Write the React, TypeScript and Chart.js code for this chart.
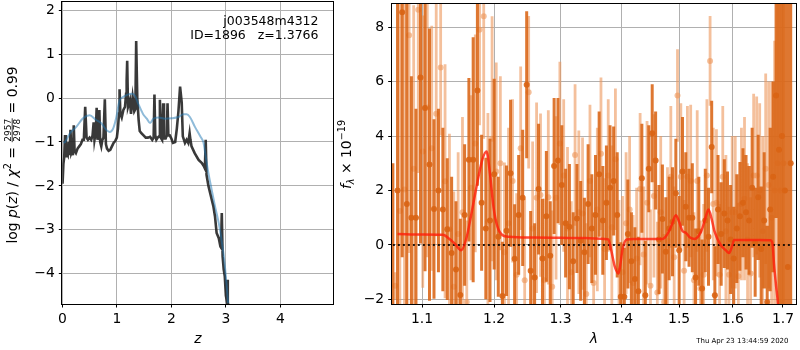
import React, { useEffect, useRef } from "react";
import { Chart, registerables } from "chart.js";
Chart.register(...registerables);

const FAM = '"DejaVu Sans", "Liberation Sans", sans-serif';

// ---------- Left panel: log p(z) ----------
const zPz = [0.005,0.02,0.035,0.05,0.065,0.08,0.10,0.115,0.13,0.15,0.165,0.18,0.195,0.21,0.225,0.25,0.28,0.31,0.34,0.37,0.395,0.42,0.445,0.47,0.50,0.53,0.555,0.575,0.59,0.615,0.63,0.645,0.665,0.68,0.695,0.715,0.735,0.755,0.78,0.80,0.82,0.85,0.88,0.91,0.94,0.97,1.0,1.02,1.04,1.05,1.065,1.09,1.12,1.15,1.17,1.18,1.19,1.205,1.24,1.26,1.29,1.32,1.34,1.355,1.375,1.40,1.42,1.45,1.49,1.53,1.57,1.61,1.65,1.675,1.69,1.705,1.725,1.75,1.775,1.79,1.805,1.83,1.85,1.865,1.895,1.915,1.93,1.945,1.97,2.0,2.03,2.07,2.10,2.13,2.16,2.19,2.21,2.25,2.28,2.31,2.335,2.35,2.37,2.43,2.50,2.56,2.60,2.615,2.63,2.645,2.68,2.74,2.77,2.80,2.83,2.87,2.90,2.91,2.925,2.94,2.96,2.98,3.0,3.015,3.025,3.035,3.05];
const logPz = [-1.95,-1.5,-1.35,-0.84,-1.35,-1.25,-1.3,-1.0,-1.3,-0.72,-1.25,-1.2,-1.3,-0.62,-1.2,-1.25,-1.15,-1.1,-1.05,-0.95,-0.95,-0.2,-0.9,-0.95,-0.9,-0.95,-0.85,-0.55,-0.95,-0.75,-0.22,-0.95,-0.8,-0.27,-1.0,-1.1,-0.95,-0.9,-0.03,-1.05,-1.15,-1.2,-1.18,-1.1,-1.02,-0.98,-0.9,-0.7,-0.35,0.2,-0.35,-0.44,-0.27,-0.2,0.1,0.4,0.85,-0.2,-0.05,-0.36,0.02,-0.3,-0.25,1.3,0.0,-0.5,-0.75,-0.8,-0.85,-0.9,-0.9,-0.88,-0.95,-0.9,0.08,-0.85,-0.95,-0.9,-0.87,-0.04,-0.9,-0.95,-0.12,-0.92,-0.92,-0.85,-0.12,-0.85,-0.85,-0.92,-1.02,-1.0,-0.7,-0.3,0.26,-0.1,-0.87,-1.02,-0.95,-1.02,-0.8,-0.95,-1.1,-1.26,-1.41,-1.48,-1.56,-1.6,-0.95,-1.75,-2.0,-2.31,-2.46,-2.69,-3.07,-3.19,-3.38,-3.4,-2.62,-3.6,-3.9,-4.06,-4.5,-4.6,-4.14,-4.65,-4.75];
const zChi = [0.02,0.05,0.14,0.26,0.38,0.5,0.62,0.72,0.81,0.87,0.93,0.99,1.05,1.11,1.2,1.27,1.33,1.39,1.48,1.55,1.61,1.67,1.76,1.88,2.0,2.13,2.22,2.28,2.34,2.43,2.53,2.59,2.63,2.68,2.74,2.8,2.87,2.92,2.97,3.01,3.04];
const logChi = [-1.02,-1.0,-0.8,-0.65,-0.46,-0.39,-0.5,-0.58,-0.73,-0.77,-0.7,-0.44,-0.05,0.02,0.08,0.1,0.06,-0.12,-0.36,-0.47,-0.57,-0.47,-0.44,-0.47,-0.46,-0.43,-0.37,-0.37,-0.43,-0.65,-0.87,-1.02,-1.33,-1.71,-2.09,-2.46,-2.85,-3.23,-3.68,-4.21,-4.67];
const zTicks = [0, 1, 2, 3, 4];
const pzTicks = [-4, -3, -2, -1, 0, 1, 2];

// ---------- Right panel: spectrum ----------
const lamDark = [
  1.062,1.068,1.074,1.080,1.086,1.092,1.098,1.104,1.110,1.116,
  1.122,1.128,1.134,1.140,1.146,1.152,1.158,1.164,1.170,1.176,
  1.182,1.188,1.194,1.200,1.206,1.212,1.218,1.224,1.230,1.236,
  1.242,1.248,1.254,1.260,1.266,1.272,1.278,1.284,1.290,1.296,
  1.302,1.308,1.314,1.320,1.326,1.332,1.338,1.344,1.350,1.356,
  1.362,1.368,1.374,1.380,1.386,1.392,1.398,1.404,1.410,1.416,
  1.422,1.428,1.434,1.440,1.446,1.452,1.458,1.464,1.470,1.476,
  1.482,1.488,1.494,1.500,1.506,1.512,1.518,1.524,1.530,1.536,
  1.542,1.548,1.554,1.560,1.566,1.572,1.578,1.584,1.590,1.596,
  1.602,1.608,1.614,1.620,1.626,1.632,1.638,1.644,1.650,1.656,
  1.662,1.668,1.674,1.680,1.686,1.692,1.698,1.704,1.710,1.716];
const fluxDark = [
  -2.5,2.0,8.55,1.5,1.0,1.0,6.15,5.03,2.95,1.32,
  2.0,1.3,0.58,-0.3,-0.9,-1.84,1.1,3.13,3.13,5.67,
  1.55,0.6,0.9,2.6,0.3,-1.88,0.52,2.63,-0.51,1.1,
  1.73,5.88,-0.95,-1.2,2.05,-0.5,1.05,-0.4,2.9,3.1,
  2.2,0.8,0.67,-0.6,0.97,0.15,-0.27,1.5,0.6,1.1,
  2.6,0.9,1.55,2.1,2.35,1.1,-1.9,-1.9,0.4,-0.6,
  -1.25,-1.7,2.45,-1.85,2.8,4.1,3.1,0.2,0.95,-0.25,
  0.6,0.85,1.9,-0.2,2.7,1.4,1.0,1.0,-1.2,0.5,
  -1.6,0.9,0.3,3.6,-1.85,1.3,0.4,1.15,0.9,0.2,
  -0.5,0.6,1.05,1.55,1.2,0.9,2.1,0.1,1.75,-0.15,
  0.9,-2.1,1.3,2.5,5.49,3.5,4.0,2.0,-0.81,3.0];
const errDark = [
  5.5,9.0,9.0,8.0,5.2,4.0,6.1,6.0,5.0,3.3,
  3.0,3.0,2.6,2.8,2.5,2.8,2.6,3.0,4.5,3.5,
  2.5,2.6,3.0,3.5,2.2,2.0,2.4,2.7,2.0,2.2,
  2.5,2.7,2.2,2.0,2.4,2.2,2.4,2.0,2.5,2.3,
  2.2,2.0,2.3,1.8,2.0,2.2,2.0,2.2,2.0,2.2,
  2.3,2.0,2.1,2.3,2.0,2.3,2.0,1.8,2.0,1.8,
  1.9,2.0,2.0,2.0,1.6,1.8,1.8,2.0,2.0,2.0,
  1.9,2.0,2.0,2.0,2.0,2.0,1.8,2.0,1.8,2.0,
  1.8,1.9,1.8,1.7,1.8,2.0,1.9,2.0,1.8,2.0,
  1.9,2.0,2.0,2.0,2.1,2.0,2.2,2.0,2.3,2.3,
  2.5,2.8,3.0,3.5,4.5,7.0,9.0,10.0,12.0,12.0];

const lamLight = [
  1.065,1.071,1.077,1.083,1.089,1.095,1.101,1.107,1.113,1.119,
  1.125,1.131,1.137,1.143,1.149,1.155,1.161,1.167,1.173,1.179,
  1.185,1.191,1.197,1.203,1.209,1.215,1.221,1.227,1.233,1.239,
  1.245,1.251,1.257,1.263,1.269,1.275,1.281,1.287,1.293,1.299,
  1.305,1.311,1.317,1.323,1.329,1.335,1.341,1.347,1.353,1.359,
  1.365,1.371,1.377,1.383,1.389,1.395,1.401,1.407,1.413,1.419,
  1.425,1.431,1.437,1.443,1.449,1.455,1.461,1.467,1.473,1.479,
  1.485,1.491,1.497,1.503,1.509,1.515,1.521,1.527,1.533,1.539,
  1.545,1.551,1.557,1.563,1.569,1.575,1.581,1.587,1.593,1.599,
  1.605,1.611,1.617,1.623,1.629,1.635,1.641,1.647,1.653,1.659,
  1.665,1.671,1.677,1.683,1.689,1.695,1.701];
const fluxLight = [
  -1.5,1.25,2.04,7.7,2.8,8.64,3.43,5.05,3.55,4.82,
  6.52,2.34,0.58,-1.54,0.4,1.2,-2.1,2.1,3.73,7.9,
  8.4,0.85,3.9,2.7,3.0,-0.27,0.8,2.35,-1.1,3.55,
  -1.3,5.61,0.6,1.73,1.83,-1.3,1.75,-1.54,1.73,3.73,
  2.55,0.6,-1.0,3.3,1.2,1.15,-1.8,2.35,-1.4,1.3,
  3.35,-0.15,2.55,0.65,3.15,-0.95,-1.0,0.8,1.3,-1.4,
  -0.5,2.05,-0.35,1.55,-1.5,1.8,-1.75,1.2,-2.1,0.15,
  2.5,-0.45,5.49,2.5,-0.95,2.5,2.35,-1.3,2.35,-1.6,
  -1.1,2.55,6.76,1.5,1.55,-1.1,2.5,0.5,-1.1,1.2,
  1.2,-1.15,1.5,1.7,0.2,-1.05,2.55,2.55,2.0,0.5,
  2.8,2.2,1.0,2.0,3.0,2.0,3.0];
const errLight = [
  0.5,9.0,8.0,8.0,6.0,6.0,5.0,5.5,4.5,4.5,
  2.5,4.3,3.5,3.5,3.0,3.5,3.0,3.4,4.0,3.5,
  4.5,4.0,4.5,4.0,3.2,3.3,3.5,3.0,3.0,3.0,
  3.0,2.8,3.2,3.5,3.0,3.0,3.2,2.8,3.0,3.0,
  2.8,3.0,2.6,2.6,3.0,2.8,2.6,2.8,2.6,3.0,
  2.8,2.6,2.8,3.0,2.6,2.6,2.8,2.6,2.7,2.5,
  2.6,2.8,2.5,3.0,2.8,3.0,2.6,2.8,2.5,2.7,
  2.6,2.6,1.7,2.7,2.6,2.6,2.8,2.5,2.6,2.5,
  2.6,2.8,1.65,2.8,2.7,2.6,2.6,2.8,2.5,2.8,
  2.8,2.7,2.8,3.0,2.8,2.8,3.0,2.9,3.2,3.5,
  3.5,3.8,5.0,5.5,7.0,9.0,9.0];

const lamModel = [1.068,1.100,1.128,1.137,1.145,1.153,1.160,1.167,1.174,1.183,1.189,1.194,1.199,1.205,1.212,1.222,1.260,1.300,1.340,1.371,1.377,1.382,1.388,1.394,1.397,1.401,1.408,1.420,1.445,1.470,1.477,1.486,1.494,1.500,1.506,1.512,1.520,1.528,1.540,1.547,1.554,1.560,1.565,1.577,1.587,1.593,1.598,1.603,1.620,1.650,1.675,1.679,1.682,1.686,1.690,1.694];
const fluxModel = [0.40,0.38,0.37,0.22,0.03,-0.20,0.20,1.07,2.04,3.13,3.43,2.60,1.40,0.65,0.36,0.30,0.27,0.26,0.25,0.22,0.20,-0.20,-0.80,-1.05,-0.75,-0.15,0.20,0.22,0.22,0.22,0.34,0.70,1.09,0.85,0.51,0.45,0.27,0.22,0.48,0.90,1.30,0.95,0.52,0.00,-0.20,-0.30,-0.10,0.18,0.18,0.18,0.17,0.00,-0.75,-1.50,-2.20,-3.50];
const zeroLam = [1.062, 1.72];
const zeroFlux = [0, 0];
const lamTicks = [1.1, 1.2, 1.3, 1.4, 1.5, 1.6, 1.7];
const fluxTicks = [-2, 0, 2, 4, 6, 8];

const fmt = (v: number) => (v < 0 ? "\u2212" + Math.abs(v) : String(v));

type Piece = { t?: string; frac?: [string, string]; f: string; dy?: number };

function drawVerticalRich(ctx: CanvasRenderingContext2D, baseX: number, centerY: number, pieces: Piece[]) {
  ctx.save();
  const widths = pieces.map((p) => {
    ctx.font = p.f;
    if (p.frac) return Math.max(ctx.measureText(p.frac[0]).width, ctx.measureText(p.frac[1]).width) + 2;
    return ctx.measureText(p.t || "").width;
  });
  const total = widths.reduce((a, b) => a + b, 0);
  ctx.translate(baseX, centerY);
  ctx.rotate(-Math.PI / 2);
  ctx.fillStyle = "#000";
  ctx.strokeStyle = "#000";
  ctx.textBaseline = "alphabetic";
  let x = -total / 2;
  pieces.forEach((p, i) => {
    ctx.font = p.f;
    const w = widths[i];
    if (p.frac) {
      ctx.textAlign = "center";
      ctx.fillText(p.frac[0], x + w / 2, -5.6);
      ctx.fillText(p.frac[1], x + w / 2, 3.4);
      ctx.lineWidth = 0.8;
      ctx.beginPath();
      ctx.moveTo(x + 0.5, -4.3);
      ctx.lineTo(x + w - 0.5, -4.3);
      ctx.stroke();
      ctx.textAlign = "left";
    } else {
      ctx.textAlign = "left";
      ctx.fillText(p.t || "", x, p.dy || 0);
    }
    x += w;
  });
  ctx.restore();
}

const N = `13.9px ${FAM}`;
const I = `italic 13.9px ${FAM}`;
const S = `9.7px ${FAM}`;
const SI = `italic 9.7px ${FAM}`;

const gridOpts = { color: "#b0b0b0", lineWidth: 1, tickColor: "#000", tickLength: 3.5, tickWidth: 1 };
const tickFont = { family: FAM, size: 13.9 };

const framePlugin = {
  id: "frame",
  afterDraw(chart: any) {
    const { ctx, chartArea: a } = chart;
    ctx.save();
    ctx.strokeStyle = "#000";
    ctx.lineWidth = 1;
    const l = Math.round(a.left) - 0.5, t = Math.round(a.top) - 0.5;
    const r = Math.round(a.right) + 0.5, b = Math.round(a.bottom) + 0.5;
    ctx.strokeRect(l, t, r - l, b - t);
    ctx.restore();
  },
};

function errSegments(lam: number[], f: number[], e: number[]) {
  const out: any[] = [];
  for (let i = 0; i < lam.length; i++) {
    out.push({ x: lam[i], y: f[i] - e[i] }, { x: lam[i], y: f[i] + e[i] }, { x: lam[i], y: null });
  }
  return out;
}
const pts = (xs: number[], ys: number[]) => xs.map((x, i) => ({ x, y: ys[i] }));

const noPad = (s: any) => {
  s.paddingTop = 0;
  s.paddingBottom = 0;
  s.paddingLeft = 0;
  s.paddingRight = 0;
};

export default function App() {
  const leftRef = useRef<HTMLCanvasElement>(null);
  const rightRef = useRef<HTMLCanvasElement>(null);

  useEffect(() => {
    const leftText = {
      id: "leftText",
      afterDraw(chart: any) {
        const ctx = chart.ctx as CanvasRenderingContext2D;
        drawVerticalRich(ctx, 16.5, 155, [
          { t: "log ", f: N },
          { t: "p", f: I },
          { t: "(", f: N },
          { t: "z", f: I },
          { t: ") / ", f: N },
          { t: "\u03c7", f: I },
          { t: "2", f: S, dy: -5.5 },
          { t: " = ", f: N },
          { frac: ["2957", "2978"], f: `9px ${FAM}` },
          { t: " = 0.99", f: N },
        ]);
        ctx.save();
        ctx.fillStyle = "#000";
        ctx.font = `12.5px ${FAM}`;
        ctx.textAlign = "right";
        ctx.textBaseline = "alphabetic";
        ctx.fillText("j003548m4312", 318.5, 25);
        ctx.fillText("ID=1896   z=1.3766", 318.5, 38.5);
        ctx.restore();
      },
    };
    const rightText = {
      id: "rightText",
      afterDraw(chart: any) {
        const ctx = chart.ctx as CanvasRenderingContext2D;
        drawVerticalRich(ctx, 350.7, 154.5, [
          { t: "f", f: I },
          { t: "\u03bb", f: SI, dy: 3 },
          { t: " \u00d7 10", f: N },
          { t: "\u221219", f: S, dy: -6 },
        ]);
        ctx.save();
        ctx.fillStyle = "#000";
        ctx.font = `7px ${FAM}`;
        ctx.textAlign = "right";
        ctx.textBaseline = "alphabetic";
        ctx.fillText("Thu Apr 23 13:44:59 2020", 788.5, 342.5);
        ctx.restore();
      },
    };

    const c1 = new Chart(leftRef.current!, {
      type: "line",
      data: {
        datasets: [
          {
            data: pts(zChi, logChi),
            borderColor: "rgba(31,119,180,0.5)",
            borderWidth: 2,
            pointRadius: 0,
            cubicInterpolationMode: "monotone",
            clip: 0,
            order: 1,
          } as any,
          {
            data: pts(zPz, logPz),
            borderColor: "rgba(35,35,35,0.9)",
            borderWidth: 2.6,
            borderJoinStyle: "miter",
            pointRadius: 0,
            tension: 0,
            clip: 0,
            order: 2,
          } as any,
        ],
      },
      options: {
        responsive: false,
        animation: false,
        devicePixelRatio: 1,
        events: [],
        layout: { padding: { left: 0, right: 800 - 333.3, top: 1.5, bottom: 0 } },
        plugins: { legend: { display: false }, tooltip: { enabled: false } },
        scales: {
          x: {
            type: "linear",
            min: 0,
            max: 4.97,
            afterBuildTicks: (s: any) => { s.ticks = zTicks.map((v) => ({ value: v })); },
            afterFit: (s: any) => { s.height = 46; noPad(s); },
            grid: gridOpts,
            border: { display: false },
            ticks: { font: tickFont, color: "#000", padding: 4, callback: (v: any) => fmt(Number(v)), maxRotation: 0, autoSkip: false },
            title: { display: true, text: "z", color: "#000", font: { family: FAM, size: 13.9, style: "italic" }, padding: { top: 0, bottom: 2 } },
          },
          y: {
            type: "linear",
            min: -4.69,
            max: 2.2,
            afterBuildTicks: (s: any) => { s.ticks = pzTicks.map((v) => ({ value: v })); },
            afterFit: (s: any) => { s.width = 62.3; noPad(s); },
            grid: gridOpts,
            border: { display: false },
            ticks: { font: tickFont, color: "#000", padding: 4, callback: (v: any) => fmt(Number(v)), autoSkip: false },
          },
        },
      } as any,
      plugins: [framePlugin, leftText],
    });

    const c2 = new Chart(rightRef.current!, {
      type: "line",
      data: {
        datasets: [
          {
            data: errSegments(lamLight, fluxLight, errLight),
            borderColor: "rgba(236,150,90,0.6)",
            borderWidth: 2.8,
            borderCapStyle: "butt",
            pointRadius: 0,
            spanGaps: false,
            clip: 0,
            order: 6,
          } as any,
          {
            data: pts(lamLight, fluxLight),
            showLine: false,
            pointRadius: 3,
            pointBorderWidth: 0,
            pointBackgroundColor: "rgba(236,150,90,0.6)",
            clip: 0,
            order: 5,
          } as any,
          {
            data: errSegments(lamDark, fluxDark, errDark),
            borderColor: "rgba(217,100,20,0.88)",
            borderWidth: 3,
            borderCapStyle: "butt",
            pointRadius: 0,
            spanGaps: false,
            clip: 0,
            order: 4,
          } as any,
          {
            data: pts(lamDark, fluxDark),
            showLine: false,
            pointRadius: 3,
            pointBorderWidth: 0,
            pointBackgroundColor: "rgba(217,100,20,0.9)",
            clip: 0,
            order: 3,
          } as any,
          {
            data: pts(zeroLam, zeroFlux),
            borderColor: "rgba(0,0,0,0.85)",
            borderWidth: 2,
            borderDash: [2, 3],
            pointRadius: 0,
            clip: 0,
            order: 2,
          } as any,
          {
            data: pts(lamModel, fluxModel),
            borderColor: "rgba(255,30,10,0.8)",
            borderWidth: 2.5,
            pointRadius: 0,
            cubicInterpolationMode: "monotone",
            clip: 0,
            order: 1,
          } as any,
        ],
      },
      options: {
        responsive: false,
        animation: false,
        devicePixelRatio: 1,
        events: [],
        layout: { padding: { left: 0, right: 1, top: 1.5, bottom: 0 } },
        plugins: { legend: { display: false }, tooltip: { enabled: false } },
        scales: {
          x: {
            type: "logarithmic",
            min: 1.0605,
            max: 1.727,
            afterBuildTicks: (s: any) => { s.ticks = lamTicks.map((v) => ({ value: v })); },
            afterFit: (s: any) => { s.height = 46; noPad(s); },
            grid: gridOpts,
            border: { display: false },
            ticks: { font: tickFont, color: "#000", padding: 4, callback: (v: any) => Number(v).toFixed(1), maxRotation: 0, autoSkip: false },
            title: { display: true, text: "\u03bb", color: "#000", font: { family: FAM, size: 13.9, style: "italic" }, padding: { top: 0, bottom: 2 } },
          },
          y: {
            type: "linear",
            min: -2.17,
            max: 8.85,
            afterBuildTicks: (s: any) => { s.ticks = fluxTicks.map((v) => ({ value: v })); },
            afterFit: (s: any) => { s.width = 391.7; noPad(s); },
            grid: gridOpts,
            border: { display: false },
            ticks: { font: tickFont, color: "#000", padding: 4, callback: (v: any) => fmt(Number(v)), autoSkip: false },
          },
        },
      } as any,
      plugins: [framePlugin, rightText],
    });

    return () => {
      c1.destroy();
      c2.destroy();
    };
  }, []);

  return (
    <div style={{ position: "fixed", left: 0, top: 0, width: 800, height: 350, background: "#fff" }}>
      <canvas ref={leftRef} width={800} height={350} style={{ position: "absolute", left: 0, top: 0, width: 800, height: 350 }} />
      <canvas ref={rightRef} width={800} height={350} style={{ position: "absolute", left: 0, top: 0, width: 800, height: 350 }} />
    </div>
  );
}
